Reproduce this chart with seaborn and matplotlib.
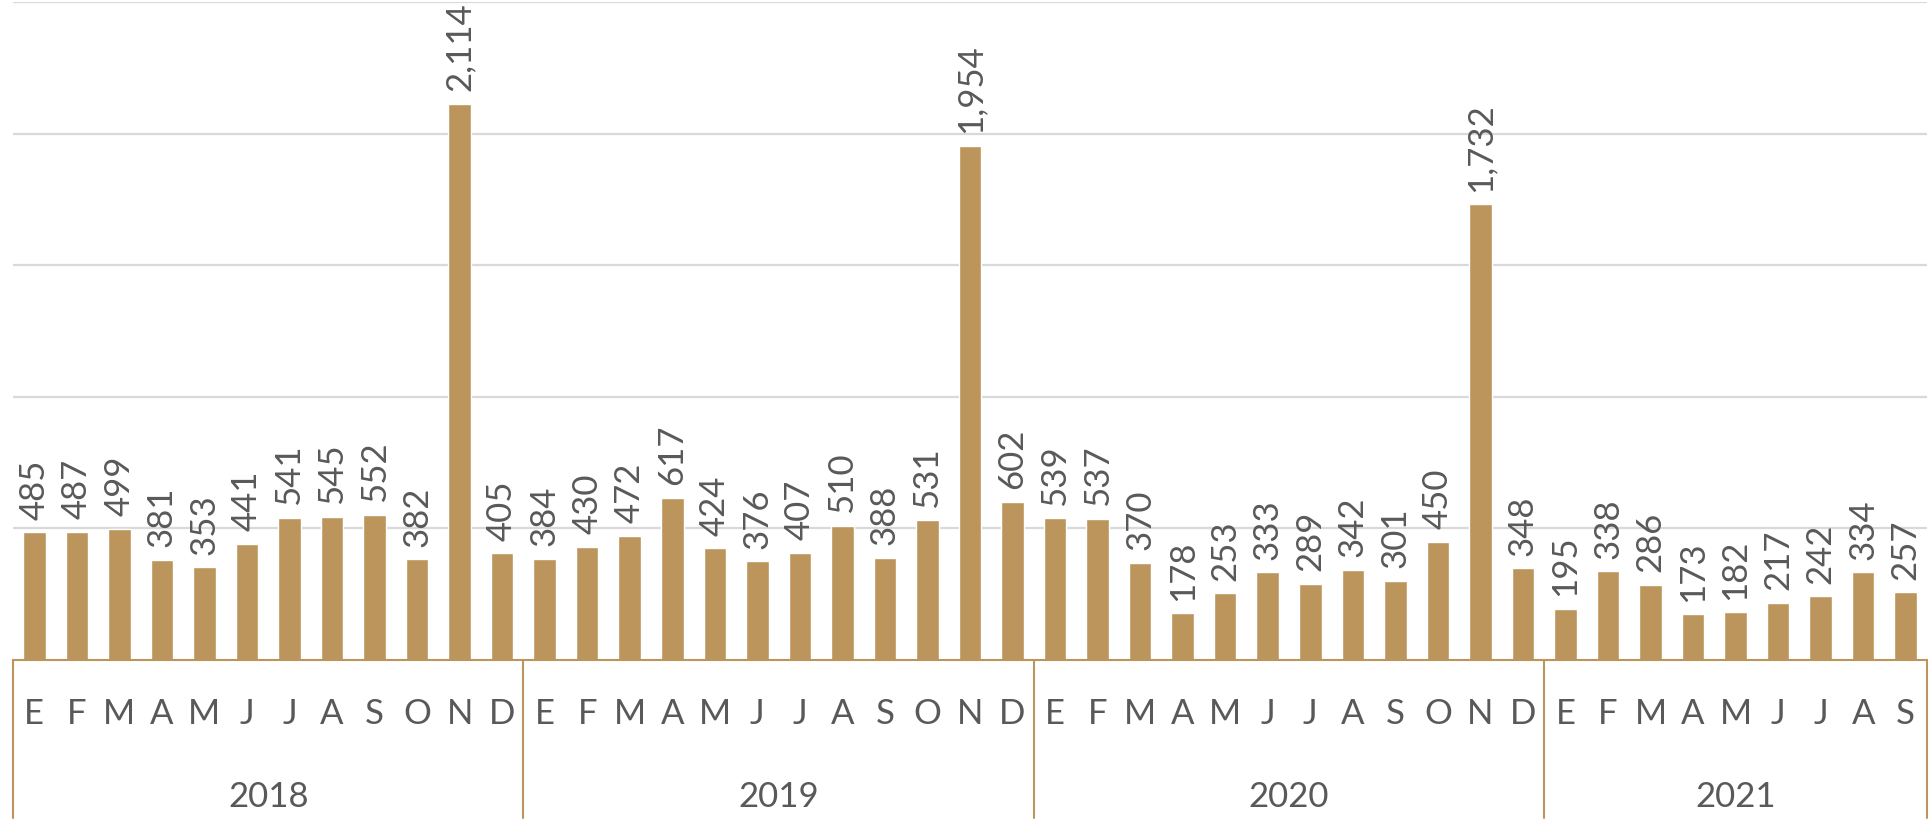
import matplotlib
matplotlib.use("Agg")
import matplotlib.pyplot as plt
import matplotlib.transforms as mtransforms
import seaborn as sns
import pandas as pd

years = ["2018", "2019", "2020", "2021"]
month_letters = ["E", "F", "M", "A", "M", "J", "J", "A", "S", "O", "N", "D"]
v2018 = [485, 487, 499, 381, 353, 441, 541, 545, 552, 382, 2114, 405]
v2019 = [384, 430, 472, 617, 424, 376, 407, 510, 388, 531, 1954, 602]
v2020 = [539, 537, 370, 178, 253, 333, 289, 342, 301, 450, 1732, 348]
v2021 = [195, 338, 286, 173, 182, 217, 242, 334, 257]

series = [v2018, v2019, v2020, v2021]
rows = []
for y, vals in zip(years, series):
    for i, v in enumerate(vals):
        rows.append({"year": y, "month": month_letters[i], "value": v})
df = pd.DataFrame(rows)
df["idx"] = range(len(df))

BAR = "#BB955B"
TXT = "#595959"
GRID = "#D9D9D9"

sns.set_theme(style="white")
plt.rcParams["font.family"] = ["Lato", "DejaVu Sans"]

W, H = 1929, 822
fig = plt.figure(figsize=(W / 100, H / 100), dpi=100)
left, right, top, base = 13, 1927, 2, 660
ax = fig.add_axes([left / W, 1 - base / H, (right - left) / W, (base - top) / H])

sns.barplot(data=df, x="idx", y="value", color=BAR, width=0.53, ax=ax,
            saturation=1, errorbar=None)

ax.set_xlim(-0.5, len(df) - 0.5)
ax.set_ylim(0, 2500)
ax.set_yticks([500, 1000, 1500, 2000, 2500])
ax.yaxis.grid(True, color=GRID, linewidth=1.6)
ax.set_axisbelow(True)
ax.set_xticks([])
ax.set_yticklabels([])
ax.tick_params(left=False, bottom=False)
ax.set_xlabel("")
ax.set_ylabel("")
for s in ["top", "right", "left"]:
    ax.spines[s].set_visible(False)
ax.spines["bottom"].set_color(BAR)
ax.spines["bottom"].set_linewidth(1.5)

fs = 25
# data labels
for i, v in zip(df["idx"], df["value"]):
    ax.annotate(f"{v:,}", xy=(i, v), xytext=(0, 9), textcoords="offset points",
                rotation=90, ha="center", va="bottom", fontsize=fs, color=TXT,
                annotation_clip=False)

trans = mtransforms.blended_transform_factory(ax.transData, ax.transAxes)
ah = base - top
for i, m in zip(df["idx"], df["month"]):
    ax.text(i, -(714 - base) / ah, m, transform=trans, ha="center", va="center",
            fontsize=fs, color=TXT)

start = 0
bounds = [-0.5]
for y, vals in zip(years, series):
    n = len(vals)
    center = start + (n - 1) / 2
    ax.text(center, -(797 - base) / ah, y, transform=trans, ha="center", va="center",
            fontsize=fs, color=TXT)
    start += n
    bounds.append(start - 0.5)

for b in bounds:
    ax.plot([b, b], [0, -(818 - base) / ah], transform=trans, color=BAR,
            linewidth=1.5, clip_on=False)

fig.savefig("out.png", dpi=100)
